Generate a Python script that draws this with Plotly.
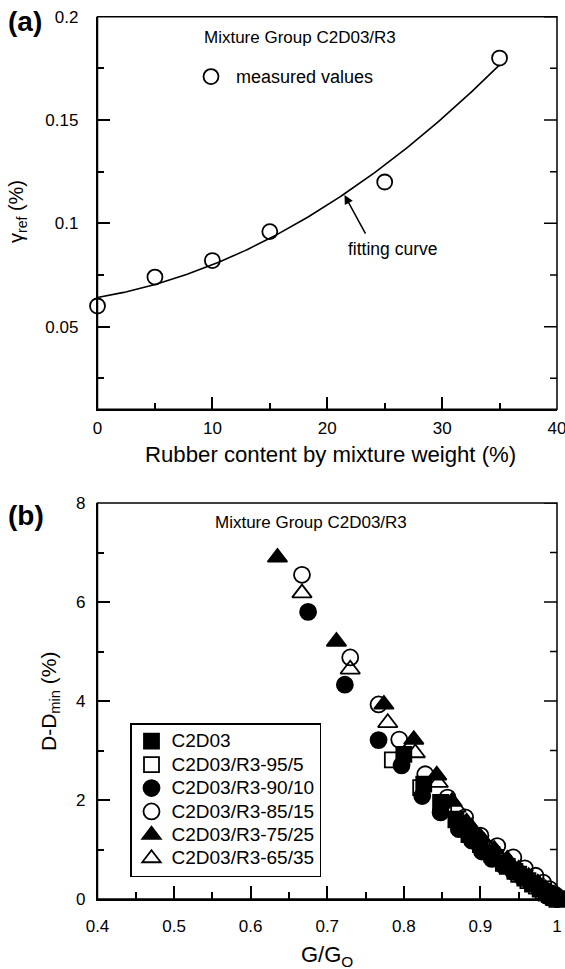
import numpy as np
import plotly.graph_objects as go

# ---- panel (a): reference strain vs rubber content ----
rubber_content = [0, 5, 10, 15, 25, 35]
gamma_ref = [0.060, 0.074, 0.082, 0.096, 0.120, 0.180]

# ---- panel (b): damping increase vs normalised modulus ----
c2d03_x = [0.800, 0.826, 0.848, 0.868, 0.885, 0.900, 0.915, 0.930, 0.945, 0.958, 0.968, 0.978, 0.986, 0.992, 0.996, 1.000]
c2d03_y = [2.92, 2.32, 1.95, 1.60, 1.30, 1.10, 0.90, 0.72, 0.56, 0.42, 0.30, 0.20, 0.12, 0.07, 0.03, 0.00]

r95_x = [0.785, 0.822, 0.852, 0.872, 0.890, 0.905, 0.920, 0.935, 0.950, 0.962, 0.973, 0.982, 0.990, 0.995, 1.000]
r95_y = [2.81, 2.25, 1.85, 1.52, 1.25, 1.02, 0.84, 0.66, 0.50, 0.37, 0.26, 0.16, 0.09, 0.04, 0.00]

r90_x = [0.675, 0.723, 0.767, 0.797, 0.824, 0.848, 0.872, 0.889, 0.902, 0.915, 0.930, 0.943, 0.955, 0.966, 0.976, 0.985, 0.992, 1.000]
r90_y = [5.80, 4.33, 3.21, 2.70, 2.08, 1.75, 1.41, 1.18, 0.96, 0.81, 0.68, 0.55, 0.43, 0.32, 0.22, 0.13, 0.07, 0.00]

r85_x = [0.667, 0.730, 0.767, 0.794, 0.828, 0.857, 0.880, 0.900, 0.922, 0.943, 0.958, 0.972, 0.982, 0.990, 0.996, 1.000]
r85_y = [6.55, 4.88, 3.93, 3.22, 2.52, 2.05, 1.65, 1.28, 1.07, 0.84, 0.62, 0.47, 0.33, 0.20, 0.10, 0.00]

r75_x = [0.635, 0.712, 0.774, 0.813, 0.843, 0.863, 0.882, 0.900, 0.918, 0.935, 0.950, 0.963, 0.975, 0.985, 0.993, 1.000]
r75_y = [6.90, 5.20, 3.93, 3.22, 2.50, 1.97, 1.55, 1.25, 1.00, 0.80, 0.60, 0.45, 0.32, 0.20, 0.10, 0.00]

r65_x = [0.667, 0.730, 0.779, 0.815, 0.845, 0.868, 0.888, 0.905, 0.922, 0.938, 0.952, 0.965, 0.976, 0.986, 0.994, 1.000]
r65_y = [6.18, 4.64, 3.56, 2.95, 2.35, 1.85, 1.45, 1.15, 0.92, 0.72, 0.55, 0.40, 0.27, 0.16, 0.07, 0.00]

series_names = ["C2D03", "C2D03/R3-95/5", "C2D03/R3-90/10",
                "C2D03/R3-85/15", "C2D03/R3-75/25", "C2D03/R3-65/35"]

# axis ranges and tick positions
a_xrange, a_xticks, a_xminor = [0, 40], [0, 10, 20, 30, 40], [5, 15, 25, 35]
a_yrange, a_yticks, a_yminor = [0.01, 0.2], [0.05, 0.1, 0.15, 0.2], [0.025, 0.075, 0.125, 0.175]
a_ylabels = ["0.05", "0.1", "0.15", "0.2"]
b_xrange = [0.4, 1.0]
b_xticks = [0.4, 0.5, 0.6, 0.7, 0.8, 0.9, 1.0]
b_xlabels = ["0.4", "0.5", "0.6", "0.7", "0.8", "0.9", "1"]
b_xminor = [0.45, 0.55, 0.65, 0.75, 0.85, 0.95]
b_yrange, b_yticks, b_yminor = [0, 8], [0, 2, 4, 6, 8], [1, 3, 5, 7]

W, H = 565, 969
FONT = "Arial, Liberation Sans, Helvetica, sans-serif"
MAJOR_LEN, MINOR_LEN = 13, 7


def px_x(p):
    return p / W


def px_y(p):
    return 1 - p / H


# quadratic least-squares fit through the measured points
coef = np.polyfit(rubber_content, gamma_ref, 2)
fit_x = np.linspace(0, 35, 200)
fit_y = np.polyval(coef, fit_x)

fig = go.Figure()

fig.add_trace(go.Scatter(
    x=fit_x, y=fit_y, mode="lines", line=dict(color="black", width=1.6),
    showlegend=False, xaxis="x", yaxis="y", hoverinfo="skip"))
fig.add_trace(go.Scatter(
    x=rubber_content, y=gamma_ref, mode="markers",
    name='<span style="font-size:18px">\u00a0measured values</span>',
    marker=dict(symbol="circle-open", size=15, color="black", line=dict(width=1.8)),
    xaxis="x", yaxis="y", legend="legend2", cliponaxis=False))

styles = [
    ("square", 15), ("square-open", 15), ("circle", 16),
    ("circle-open", 16), ("triangle-up", 17), ("triangle-up-open", 17),
]
xs = [c2d03_x, r95_x, r90_x, r85_x, r75_x, r65_x]
ys = [c2d03_y, r95_y, r90_y, r85_y, r75_y, r65_y]
for name, (sym, size), x, y in zip(series_names, styles, xs, ys):
    fig.add_trace(go.Scatter(
        x=x, y=y, mode="markers",
        name='<span style="font-size:19px">%s</span>' % name,
        marker=dict(symbol=sym, size=size, color="black", line=dict(width=1.8, color="black")),
        xaxis="x2", yaxis="y2", legend="legend", cliponaxis=False))

axis_common = dict(
    automargin=False,
    showline=True, linecolor="black", linewidth=1.5,
    ticks="inside", ticklen=MAJOR_LEN, tickwidth=1.5, tickcolor="black",
    showgrid=False, zeroline=False, ticklabeloverflow="allow",
    tickfont=dict(family=FONT, size=17, color="black"),
)
minor_common = dict(ticks="inside", ticklen=MINOR_LEN, tickwidth=1.5, tickcolor="black", showgrid=False)

dom_x = [px_x(97.5), px_x(557)]
dom_a = [px_y(409.3), px_y(16.7)]
dom_b = [px_y(899), px_y(503)]
plot_w = (dom_x[1] - dom_x[0]) * W

fig.update_layout(
    width=W, height=H, margin=dict(l=0, r=0, t=0, b=0, autoexpand=False),
    paper_bgcolor="white", plot_bgcolor="white",
    font=dict(family=FONT, color="black"),
    xaxis=dict(**axis_common, domain=dom_x, anchor="y", range=a_xrange,
               tickvals=a_xticks, ticklabelstandoff=3,
               minor=dict(**minor_common, tickvals=a_xminor)),
    yaxis=dict(**axis_common, domain=dom_a, anchor="x",
               range=a_yrange, tickvals=a_yticks, ticktext=a_ylabels,
               ticklabelstandoff=14,
               minor=dict(**minor_common, tickvals=a_yminor)),
    xaxis2=dict(**axis_common, domain=dom_x, anchor="y2", range=b_xrange,
                tickvals=b_xticks, ticktext=b_xlabels, ticklabelstandoff=11,
                minor=dict(**minor_common, tickvals=b_xminor)),
    yaxis2=dict(**axis_common, domain=dom_b, anchor="x2",
                range=b_yrange, tickvals=b_yticks, ticklabelstandoff=7,
                minor=dict(**minor_common, tickvals=b_yminor)),
    legend=dict(x=px_x(130), y=px_y(723), xanchor="left", yanchor="top",
                bordercolor="black", borderwidth=1.5, bgcolor="white",
                font=dict(family=FONT, size=15.7, color="black"),
                itemsizing="trace", tracegroupgap=0),
    legend2=dict(x=px_x(191), y=px_y(59), xanchor="left", yanchor="top",
                 borderwidth=0, bgcolor="rgba(0,0,0,0)",
                 font=dict(family=FONT, size=17, color="black")),
)

# closed frame of each panel, with ticks repeated along the right edge
shapes = []
for xr, yr, yticks, yminor in [("x", "y", a_yticks, a_yminor),
                               ("x2", "y2", b_yticks, b_yminor)]:
    shapes.append(dict(type="rect", xref=xr + " domain", yref=yr + " domain",
                       x0=0, x1=1, y0=0, y1=1, layer="above",
                       line=dict(color="black", width=1.5)))
    for ticks, length in [(yticks, MAJOR_LEN), (yminor, MINOR_LEN)]:
        for t in ticks:
            shapes.append(dict(type="line", xref=xr + " domain", yref=yr,
                               x0=1, x1=1 - length / plot_w, y0=t, y1=t,
                               layer="above", line=dict(color="black", width=1.5)))
fig.update_layout(shapes=shapes)

ann = []
# panel labels
ann.append(dict(text="<b>(a)</b>", x=px_x(6), y=px_y(21), xref="paper", yref="paper",
                xanchor="left", yanchor="middle", showarrow=False,
                font=dict(family=FONT, size=28, color="black")))
ann.append(dict(text="<b>(b)</b>", x=px_x(6), y=px_y(515), xref="paper", yref="paper",
                xanchor="left", yanchor="middle", showarrow=False,
                font=dict(family=FONT, size=28, color="black")))
# axis titles
ann.append(dict(text="Rubber content by mixture weight (%)", x=px_x(330), y=px_y(455),
                xref="paper", yref="paper", xanchor="center", yanchor="middle",
                showarrow=False, font=dict(family=FONT, size=22.2, color="black")))
ann.append(dict(text="G/G<sub>O</sub>", x=px_x(327), y=px_y(956),
                xref="paper", yref="paper", xanchor="center", yanchor="middle",
                showarrow=False, font=dict(family=FONT, size=22, color="black")))
ann.append(dict(text="γ<sub>ref</sub> (%)", x=px_x(18), y=px_y(212), textangle=-90,
                xref="paper", yref="paper", xanchor="center", yanchor="middle",
                showarrow=False, font=dict(family=FONT, size=20, color="black")))
ann.append(dict(text="D-D<sub>min</sub> (%)", x=px_x(50), y=px_y(701), textangle=-90,
                xref="paper", yref="paper", xanchor="center", yanchor="middle",
                showarrow=False, font=dict(family=FONT, size=21, color="black")))
# in-plot labels
ann.append(dict(text="Mixture Group C2D03/R3", x=px_x(300), y=px_y(38),
                xref="paper", yref="paper", xanchor="center", yanchor="middle",
                showarrow=False, font=dict(family=FONT, size=17, color="black")))
ann.append(dict(text="Mixture Group C2D03/R3", x=px_x(311), y=px_y(522),
                xref="paper", yref="paper", xanchor="center", yanchor="middle",
                showarrow=False, font=dict(family=FONT, size=17, color="black")))
ann.append(dict(text="fitting curve", x=21.6, y=0.0874, xref="x", yref="y",
                xanchor="left", yanchor="middle", showarrow=False,
                font=dict(family=FONT, size=17.5, color="black")))
ann.append(dict(text="", x=21.5, y=0.1137, ax=23.4, ay=0.0943, xref="x", yref="y",
                axref="x", ayref="y", showarrow=True, arrowhead=2, arrowsize=1.2,
                arrowwidth=1.5, arrowcolor="black", standoff=0))
fig.update_layout(annotations=ann)

fig.write_html("out.html")
